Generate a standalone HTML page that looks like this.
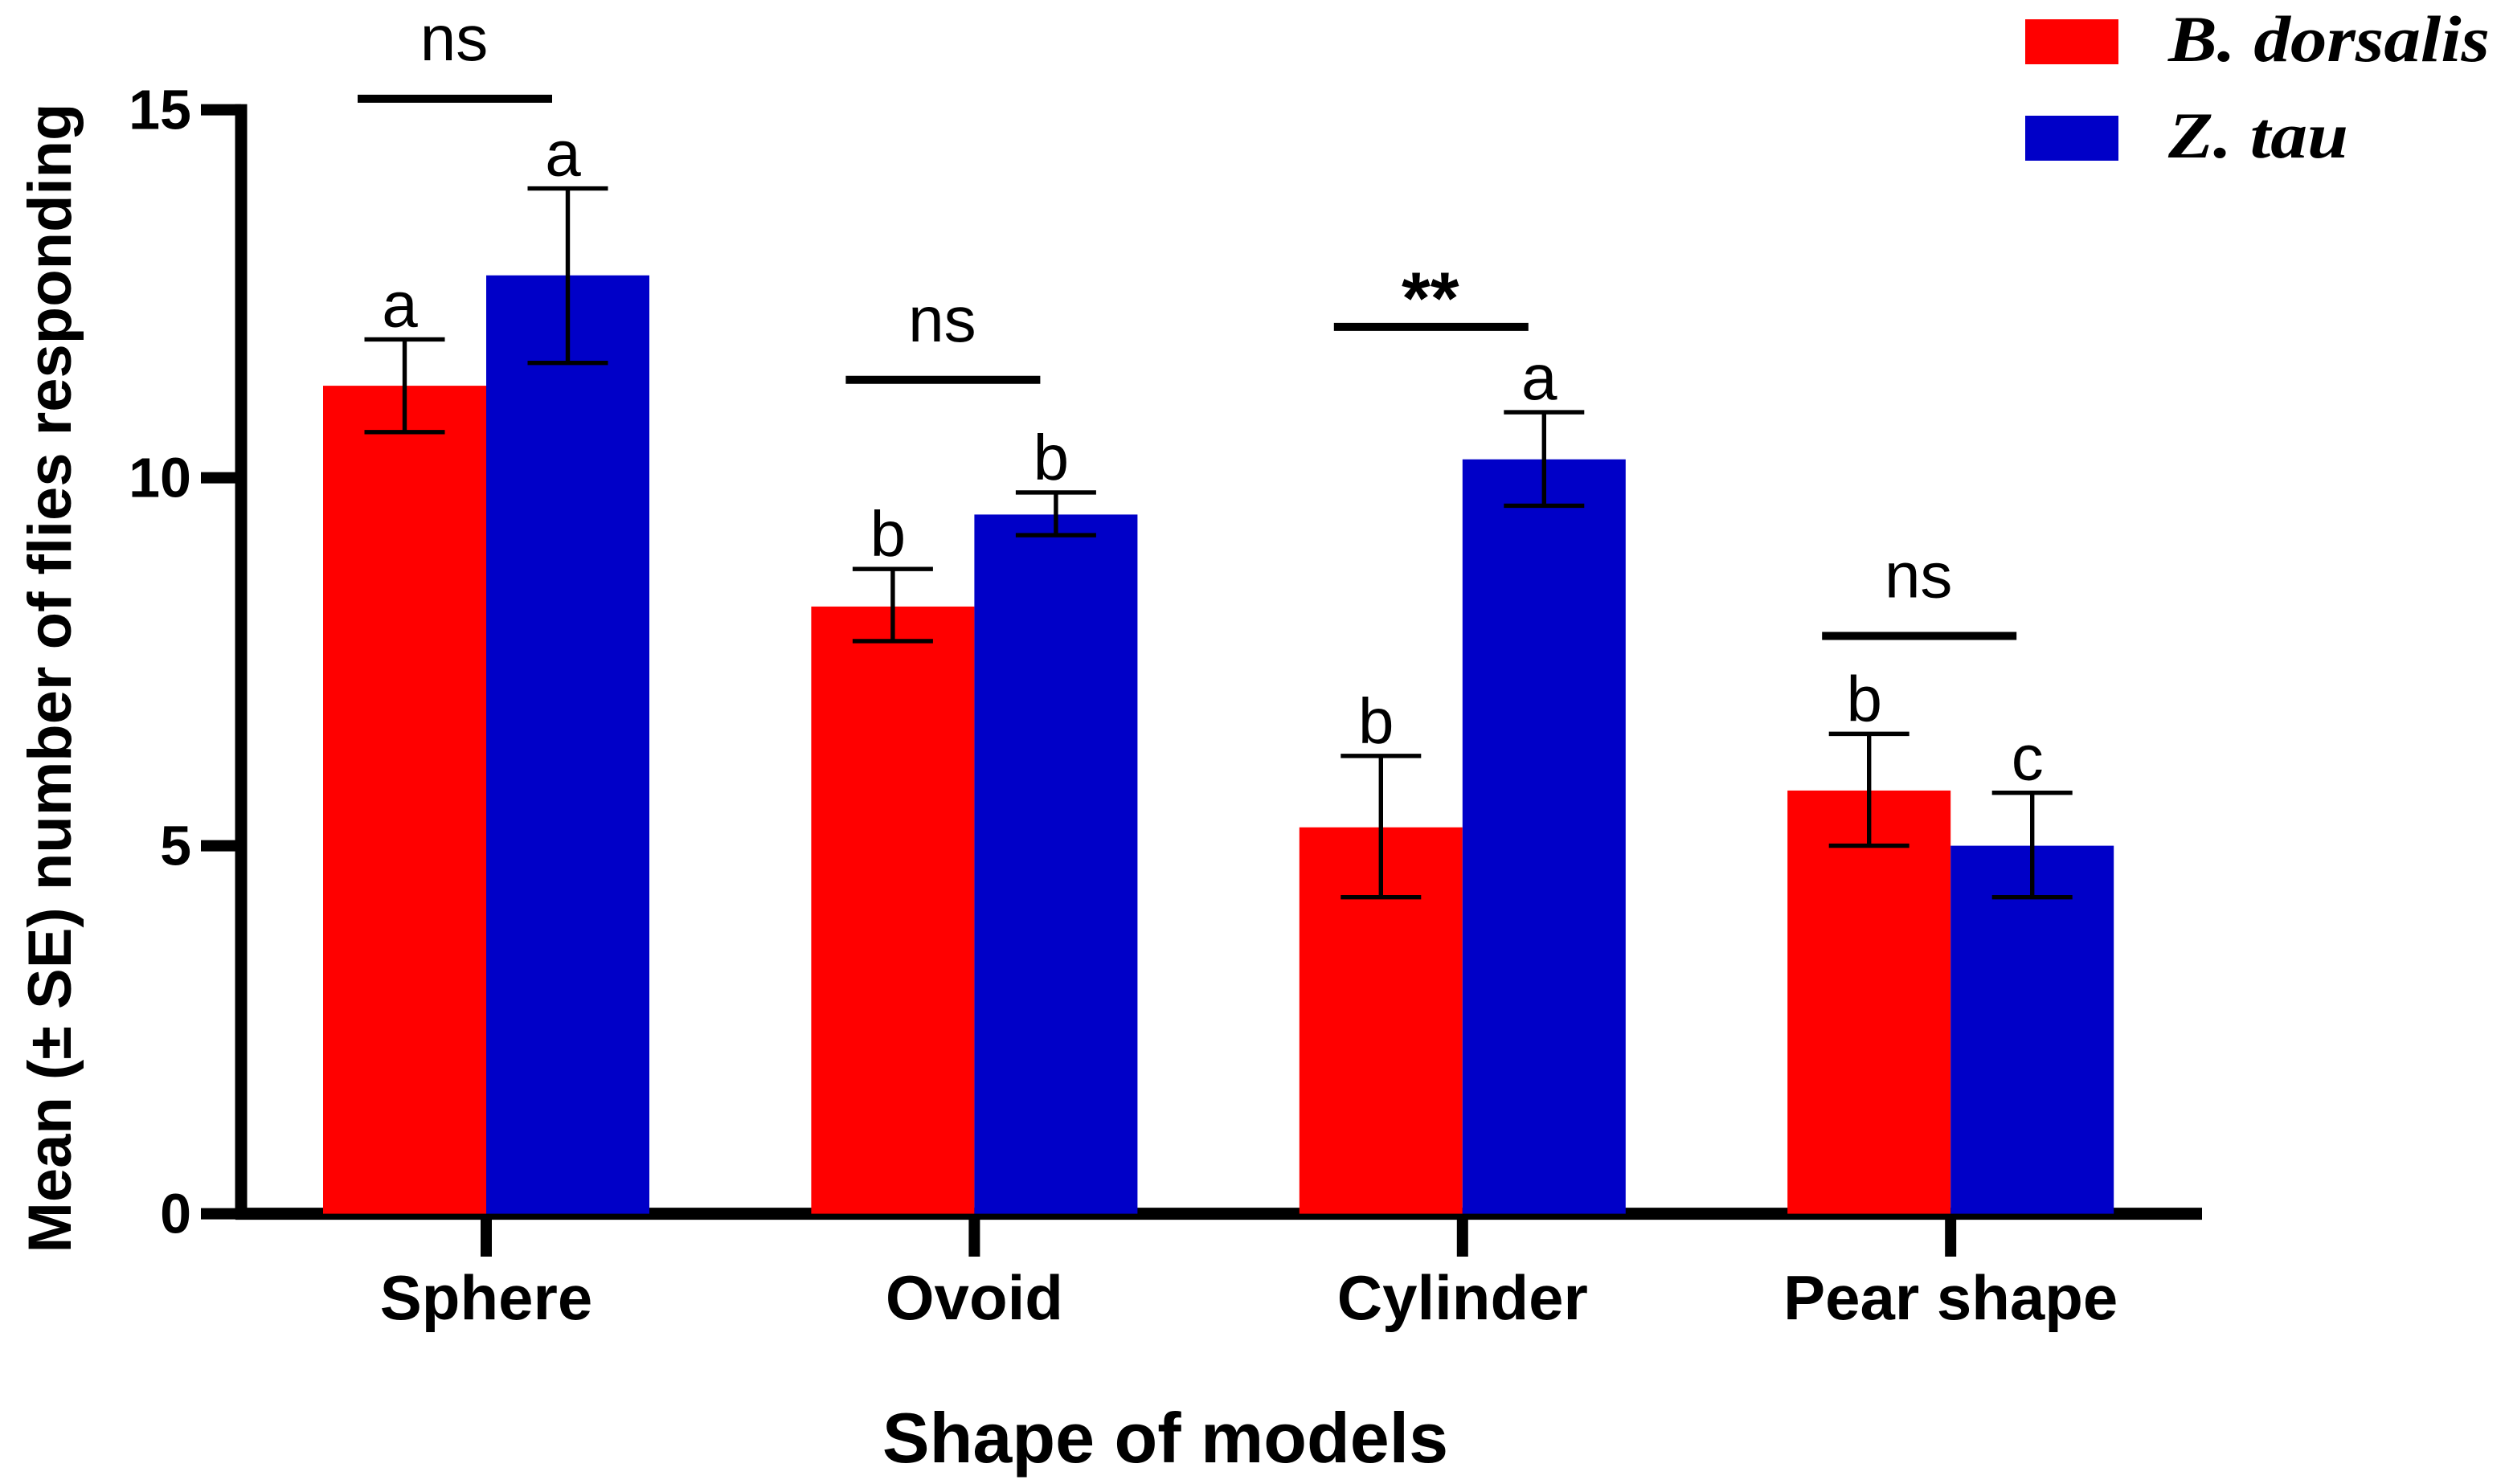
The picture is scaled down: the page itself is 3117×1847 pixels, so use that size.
<!DOCTYPE html>
<html><head><meta charset="utf-8"><style>
html,body{margin:0;padding:0;background:#fff;}
svg{display:block;}
text{font-family:"Liberation Sans",Arial,sans-serif;}
</style></head><body>
<svg id="chart" width="3117" height="1847" viewBox="0 0 1558.5 923.5" xmlns="http://www.w3.org/2000/svg">
<g id="axes"></g>
<g id="bars"></g>
<g id="anno"></g>
<g>
  <rect x="1260" y="12" width="58" height="28" fill="#ff0000"/>
  <text x="1349" y="38" style="font-family:'Liberation Serif','Times New Roman',serif;font-style:italic;font-weight:bold;font-size:41px" textLength="200" lengthAdjust="spacingAndGlyphs">B. dorsalis</text>
  <rect x="1260" y="72" width="58" height="28" fill="#0000c8"/>
  <text x="1349" y="98" style="font-family:'Liberation Serif','Times New Roman',serif;font-style:italic;font-weight:bold;font-size:41px" textLength="112" lengthAdjust="spacingAndGlyphs">Z. tau</text>
</g>
<text x="725" y="910" text-anchor="middle" font-weight="bold" font-size="44">Shape of models</text>
<text transform="translate(44,422) rotate(-90)" text-anchor="middle" font-weight="bold" font-size="38">Mean (± SE) number of flies responding</text>
</svg>
<script>
const categories = ["Sphere","Ovoid","Cylinder","Pear shape"];
const redValues = [11.25, 8.25, 5.25, 5.75];
const redErrHi = [11.88, 8.76, 6.22, 6.52];
const redErrLo = [10.62, 7.78, 4.3, 5.0];
const blueValues = [12.75, 9.5, 10.25, 5.0];
const blueErrHi = [13.93, 9.8, 10.89, 5.72];
const blueErrLo = [11.56, 9.22, 9.62, 4.3];
const redLetters = ["a","b","b","b"];
const blueLetters = ["a","b","a","c"];
const sigLabels = ["ns","ns","**","ns"];
const sigLevels = [15.15, 11.33, 12.05, 7.85];
const yTicks = [0,5,10,15];

const NS="http://www.w3.org/2000/svg";
const x0=150, x1=1370, yBase=755.3, yMax=15, unit=45.8;
const y = v => yBase - v*unit;
const center = i => 302.5 + i*303.7;
const barW = 101.5;
function mk(tag, attrs, parent, txt){const e=document.createElementNS(NS,tag);for(const k in attrs)e.setAttribute(k,attrs[k]);if(txt!==undefined)e.textContent=txt;parent.appendChild(e);return e;}
const axes=document.getElementById('axes'), bars=document.getElementById('bars'), anno=document.getElementById('anno');

yTicks.forEach(t=>{
  const tk=mk('line',{x1:125,y1:y(t),x2:x0,y2:y(t),stroke:'#000','stroke-width':7},axes);
  
  
  const tl=mk('text',{x:119,y:y(t)+12,'text-anchor':'end','font-weight':'bold','font-size':35},axes,String(t));
  
  
});
let l=mk('line',{x1:x0,y1:y(yMax)-3.5,x2:x0,y2:yBase+3.5,stroke:'#000','stroke-width':7.5},axes);


categories.forEach((c,i)=>{
  const cx=center(i);
  const tk=mk('line',{x1:cx,y1:yBase,x2:cx,y2:782,stroke:'#000','stroke-width':7},axes);
  
  
  const tl=mk('text',{x:cx,y:821,'text-anchor':'middle','font-weight':'bold','font-size':39},axes,c);
  
  
  const series=[[redValues,redErrHi,redErrLo,redLetters,'#ff0000',cx-barW],[blueValues,blueErrHi,blueErrLo,blueLetters,'#0000c8',cx]];
  series.forEach((s,j)=>{
    const v=s[0][i], bx=s[5];
    const r=mk('rect',{x:bx,y:y(v),width:barW,height:yBase-y(v),fill:s[4]},bars);
    
    
    const ex=bx+barW/2, hi=y(s[1][i]), lo=y(s[2][i]);
    const g=mk('g',{stroke:'#000','stroke-width':2.7},bars);
    
    
    mk('line',{x1:ex,y1:hi,x2:ex,y2:lo},g);
    mk('line',{x1:ex-25,y1:hi,x2:ex+25,y2:hi},g);
    mk('line',{x1:ex-25,y1:lo,x2:ex+25,y2:lo},g);
    const lt=mk('text',{x:ex-3,y:hi-8,'text-anchor':'middle','font-size':40},anno,s[3][i]);
    
    
  });
  const sy=y(sigLevels[i]);
  const sl=mk('line',{x1:cx-80,y1:sy,x2:cx+41,y2:sy,stroke:'#000','stroke-width':5},anno);
  
  
  const isStar = sigLabels[i]==='**';
  const st=mk('text',{x:cx-20,y:sy-(isStar?2:24),'text-anchor':'middle','font-size':isStar?46:40,'font-weight':isStar?'bold':'normal'},anno,sigLabels[i]);
  
  
});
l=mk('line',{x1:x0-3.5,y1:yBase,x2:x1,y2:yBase,stroke:'#000','stroke-width':7.5},axes);


</script>
</body></html>
